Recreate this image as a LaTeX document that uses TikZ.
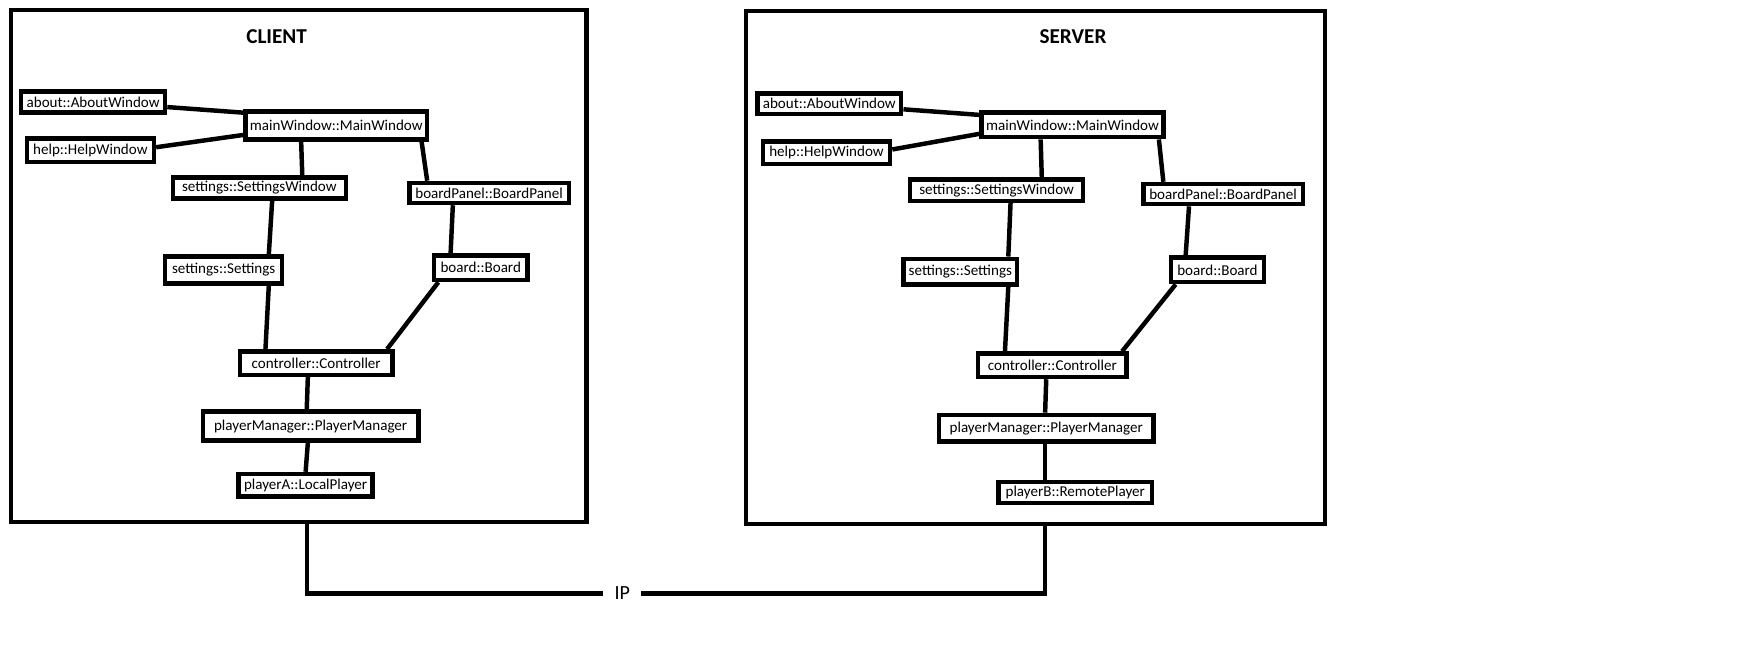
\documentclass[tikz,border=0pt]{standalone}
\usepackage{fontspec}
\setmainfont{Carlito}
\usepackage{tikz}

\begin{document}
\begin{tikzpicture}[
    x=1pt, y=-1pt,
    cls/.style={draw, line width=4pt, inner sep=1pt, font=\fontsize{13.5}{14}\selectfont},
    side/.style={draw, line width=4pt},
    link/.style={line width=4pt},
    title/.style={font=\fontsize{19}{20}\selectfont\bfseries}
]
    \useasboundingbox (0,0) rectangle (1560,581);

    \node[side, minimum width=516, minimum height=459] (client) at (268,238.5) {};
    \node[side, minimum width=519, minimum height=460] (server) at (928.5,240) {};

    \node[title] (clientTitle) at (248,33) {CLIENT};
    \node[title] (serverTitle) at (962,33) {SERVER};

    \node[cls, minimum width=129, minimum height=19] (cAbout) at (83.5,91.5) {about::AboutWindow};
    \node[cls, minimum width=163, minimum height=25] (cMain) at (301.5,112.5) {mainWindow::MainWindow};
    \node[cls, minimum width=114, minimum height=21] (cHelp) at (81,134.5) {help::HelpWindow};
    \node[cls, minimum width=155, minimum height=19] (cSetWin) at (232.5,168.5) {settings::SettingsWindow};
    \node[cls, minimum width=143, minimum height=18] (cPanel) at (438.5,173) {boardPanel::BoardPanel};
    \node[cls, minimum width=105, minimum height=24] (cSet) at (200.5,242) {settings::Settings};
    \node[cls, minimum width=84, minimum height=22] (cBoard) at (431,240) {board::Board};
    \node[cls, minimum width=137, minimum height=21] (cCtrl) at (283.5,325.5) {controller::Controller};
    \node[cls, minimum width=193, minimum height=26] (cPlMgr) at (278.5,382) {playerManager::PlayerManager};
    \node[cls, minimum width=120, minimum height=20] (cPlA) at (274,435) {playerA::LocalPlayer};

    \node[cls, minimum width=129, minimum height=18] (sAbout) at (743.5,93) {about::AboutWindow};
    \node[cls, minimum width=163, minimum height=22] (sMain) at (961.5,112) {mainWindow::MainWindow};
    \node[cls, minimum width=114, minimum height=20] (sHelp) at (741,137) {help::HelpWindow};
    \node[cls, minimum width=155, minimum height=19] (sSetWin) at (893.5,170.5) {settings::SettingsWindow};
    \node[cls, minimum width=143, minimum height=18] (sPanel) at (1096.5,174) {boardPanel::BoardPanel};
    \node[cls, minimum width=102, minimum height=23] (sSet) at (861,243.5) {settings::Settings};
    \node[cls, minimum width=83, minimum height=22] (sBoard) at (1091.5,242) {board::Board};
    \node[cls, minimum width=133, minimum height=21] (sCtrl) at (943.5,327.5) {controller::Controller};
    \node[cls, minimum width=192, minimum height=24] (sPlMgr) at (938,384) {playerManager::PlayerManager};
    \node[cls, minimum width=138, minimum height=19] (sPlB) at (964,441.5) {playerB::RemotePlayer};

    \draw[link] ([yshift=-4.5pt]cAbout.east) -- ([yshift=11.5pt]cMain.west);
    \draw[link] ([yshift=2.5pt]cHelp.east) -- ([yshift=-8.5pt]cMain.west);
    \draw[link] ([xshift=-31.5pt]cMain.south) -- ([xshift=38.5pt]cSetWin.north);
    \draw[link] ([xshift=76.5pt]cMain.south) -- ([xshift=-55.5pt]cPanel.north);
    \draw[link] ([xshift=11.5pt]cSetWin.south) -- ([xshift=40.5pt]cSet.north);
    \draw[link] ([xshift=-32.5pt]cPanel.south) -- ([xshift=-27pt]cBoard.north);
    \draw[link] ([xshift=40.5pt]cSet.south) -- ([xshift=-45.5pt]cCtrl.north);
    \draw[link] ([xshift=-38pt]cBoard.south) -- ([xshift=63.5pt]cCtrl.north);
    \draw[link] ([xshift=-7.5pt]cCtrl.south) -- ([xshift=-3.5pt]cPlMgr.north);
    \draw[link] ([xshift=-2.5pt]cPlMgr.south) -- (cPlA.north);

    \draw[link] ([yshift=-5pt]sAbout.east) -- ([yshift=9pt]sMain.west);
    \draw[link] ([yshift=3pt]sHelp.east) -- ([yshift=-8pt]sMain.west);
    \draw[link] ([xshift=-28.5pt]sMain.south) -- ([xshift=40.5pt]sSetWin.north);
    \draw[link] ([xshift=77.5pt]sMain.south) -- ([xshift=-53.5pt]sPanel.north);
    \draw[link] ([xshift=12.5pt]sSetWin.south) -- ([xshift=43pt]sSet.north);
    \draw[link] ([xshift=-30.5pt]sPanel.south) -- ([xshift=-28.5pt]sBoard.north);
    \draw[link] ([xshift=43pt]sSet.south) -- ([xshift=-42.5pt]sCtrl.north);
    \draw[link] ([xshift=-37.5pt]sBoard.south) -- ([xshift=62.5pt]sCtrl.north);
    \draw[link] ([xshift=-5.5pt]sCtrl.south) -- ([xshift=-1pt]sPlMgr.north);
    \draw[link] ([xshift=-1pt]sPlMgr.south) -- ([xshift=-27pt]sPlB.north);

    \node[font=\fontsize{18}{19}\selectfont, inner sep=10pt] (ip) at (558,532) {IP};
    \draw[link] ([xshift=7pt]client.south) |- (ip.west);
    \draw[link] (ip.east) -| ([xshift=8.5pt]server.south);
\end{tikzpicture}
\end{document}
